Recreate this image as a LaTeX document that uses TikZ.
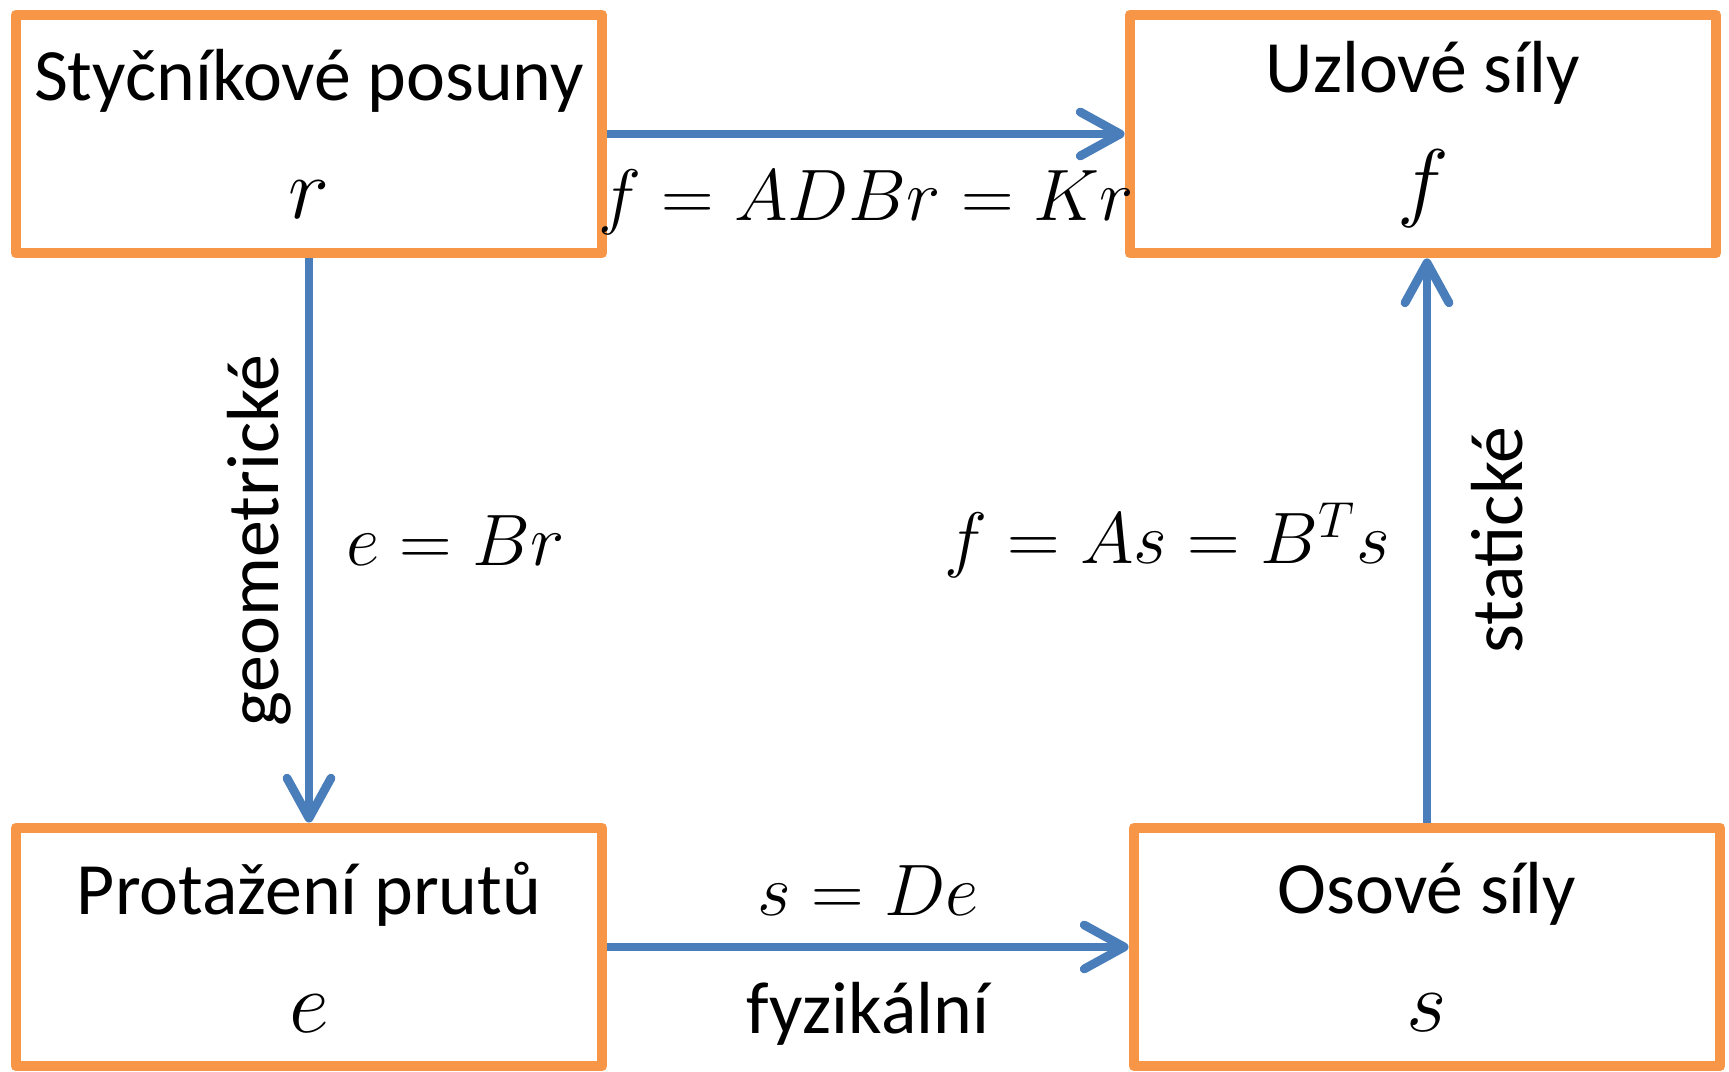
\documentclass[tikz,border=0pt]{standalone}
\usepackage{fontspec}
\setmainfont{Carlito}
\usetikzlibrary{calc,positioning,arrows.meta}
\definecolor{boxorange}{HTML}{F79646}
\definecolor{arrowblue}{HTML}{4A7EBB}
\newcommand{\boxvar}[1]{{\fontsize{24.88}{30}\selectfont$#1$}}

\begin{document}
\begin{tikzpicture}[
        box/.style = {draw = boxorange, line width = 3.1pt, line join = round,
            minimum width = 5.86cm, minimum height = 2.38cm, align = center,
            font = \fontsize{21}{33.6}\selectfont},
        conn/.style = {draw = arrowblue, line width = 2.5pt,
            -{Straight Barb[length = 4mm, width = 4.4mm, round]}},
        lbl/.style = {inner sep = 0, font = \fontsize{21}{26}\selectfont},
        rel/.style = {inner sep = 0, font = \fontsize{20.74}{26}\selectfont}]
        \useasboundingbox (0, 0) rectangle (17.29, 10.72);
        \node[box] at (3.09, 9.38) (posuny) {Styčníkové posuny\\\boxvar{r}};
        \node[box] at (14.23, 9.38) (uzlove) {Uzlové síly\\\boxvar{f}};
        \node[box] at (3.09, 1.25) (protazeni) {Protažení prutů\\\boxvar{e}};
        \node[box] at (14.27, 1.25) (osove) {Osové síly\\\boxvar{s}};
        \draw[conn] (posuny)
            -- node[rel, below = 3.2mm] (k_rel) {$f = ADBr = Kr$} (uzlove);
        \draw[conn] (posuny)
            -- node[rel, right = 3.3mm] (b_rel) {$e = Br$} (protazeni);
        \draw[conn] (protazeni)
            -- node[rel, above = 2.7mm] (d_rel) {$s = De$}
               node[lbl, below = 3.1mm] (fyz) {fyzikální} (osove);
        \draw[conn] (osove)
            -- node[rel, left = 3.3mm] (a_rel) {$f = As = B^T s$}
               (osove.north |- uzlove.south);
        \node[lbl, rotate = 90, anchor = south]
            at ($ (posuny.south)!0.5!(protazeni.north) + (-0.17, 0) $) (geom) {geometrické};
        \node[lbl, rotate = 90, anchor = north]
            at ($ (osove.north)!0.5!(osove.north |- uzlove.south) + (0.44, 0) $) (stat) {statické};
    \end{tikzpicture}
\end{document}
